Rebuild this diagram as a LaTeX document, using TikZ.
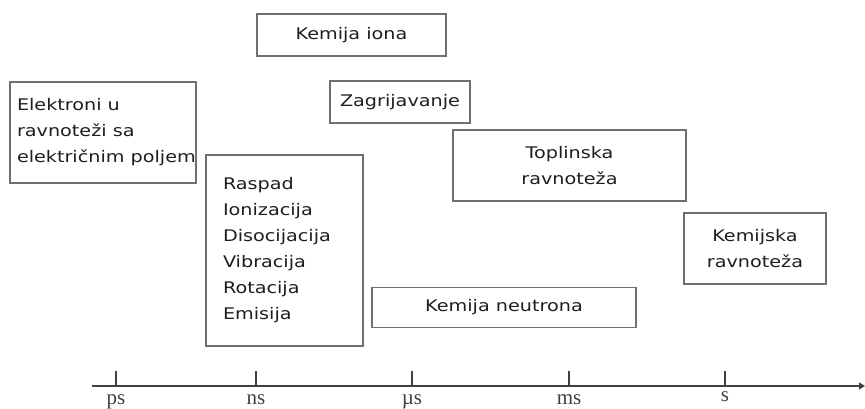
\documentclass[tikz,border=0pt]{standalone}
\usepackage{fontspec}
\newfontfamily\boxfont{DejaVu Sans}[FakeStretch=1.2]
\newfontfamily\axisfont{Liberation Serif}
\usetikzlibrary{arrows.meta}
\definecolor{boxline}{HTML}{707070}
\definecolor{txt}{HTML}{1E1E1E}
\definecolor{axisc}{HTML}{404040}
\begin{document}
\begin{tikzpicture}[x=1pt,y=-1pt,
  box/.style={draw=boxline,line width=1.4pt,rectangle,text=txt,inner sep=0pt,
    font=\boxfont\fontsize{16}{26}\selectfont},
  tick/.style={draw=axisc,line width=1.1pt},
  lab/.style={font=\axisfont\fontsize{21}{21}\selectfont,text=axisc,anchor=base,inner sep=0pt}]
\useasboundingbox (0,0) rectangle (865,409);
% boxes
\node[box,minimum width=189pt,minimum height=42pt] (ion) at (351.5,35) {Kemija iona};
\node[box,minimum width=186pt,minimum height=101pt] (el) at (103,132.5) {};
\node[box,draw=none,anchor=west,align=left] (eltext) at ([xshift=7pt]el.west) {Elektroni u\\ravnoteži sa\\električnim poljem};
\node[box,minimum width=140pt,minimum height=42pt] (zag) at (400,102) {Zagrijavanje};
\node[box,minimum width=233pt,minimum height=71pt,align=center] (top) at (569.5,165.5) {Toplinska\\ravnoteža};
\node[box,minimum width=157pt,minimum height=191pt,align=left,text width=123pt] (ras) at (284.5,250.5) {Raspad\\Ionizacija\\Disocijacija\\Vibracija\\Rotacija\\Emisija};
\node[box,minimum width=142pt,minimum height=71pt,align=center] (kem) at (755,248.5) {Kemijska\\ravnoteža};
\node[box,minimum width=264pt,minimum height=40pt] (neu) at (504,307.5) {Kemija neutrona};
% axis
\coordinate (a0) at (92,386);
\coordinate (a1) at (865,386);
\draw[draw=axisc,line width=1.2pt,-{Triangle[length=6pt,width=7pt]}] (a0) -- (a1);
\foreach \n/\x in {ps/116,ns/256,us/412,ms/569,s/725}{
  \coordinate (t\n) at (\x,386);
  \coordinate (u\n) at (\x,371);
  \draw[tick] (t\n) -- (u\n);
}
\node[lab] (lps) at (116,404) {ps};
\node[lab] (lns) at (256,404) {ns};
\node[lab] (lus) at (412,404) {µs};
\node[lab] (lms) at (569,404) {ms};
\node[lab] (ls) at (725,401) {s};
\end{tikzpicture}
\end{document}
